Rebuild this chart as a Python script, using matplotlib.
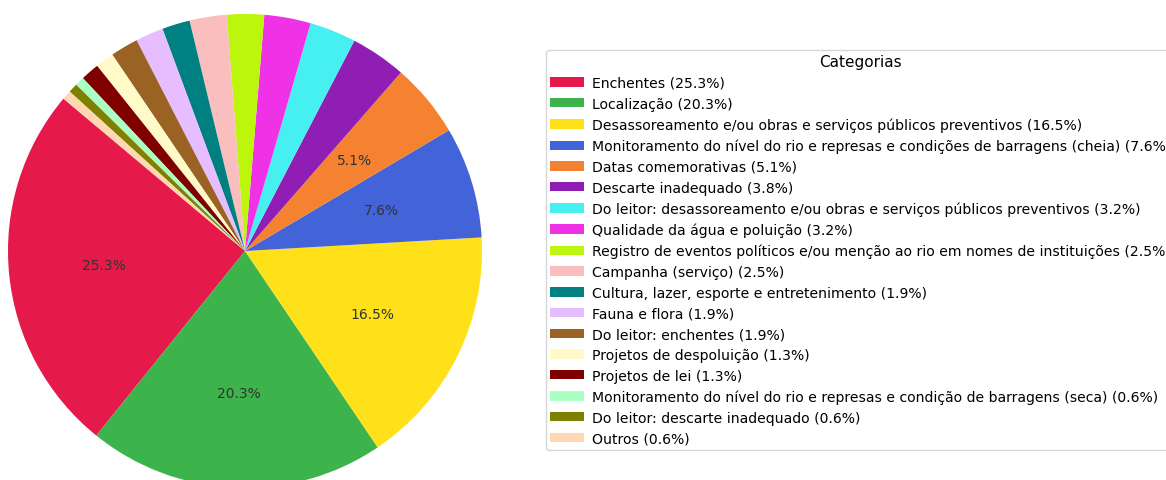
import matplotlib
matplotlib.use("Agg")
import matplotlib.pyplot as plt

# Categorias e contagens de matérias
categorias = [
    "Enchentes",
    "Localização",
    "Desassoreamento e/ou obras e serviços públicos preventivos",
    "Monitoramento do nível do rio e represas e condições de barragens (cheia)",
    "Datas comemorativas",
    "Descarte inadequado",
    "Do leitor: desassoreamento e/ou obras e serviços públicos preventivos",
    "Qualidade da água e poluição",
    "Registro de eventos políticos e/ou menção ao rio em nomes de instituições",
    "Campanha (serviço)",
    "Cultura, lazer, esporte e entretenimento",
    "Fauna e flora",
    "Do leitor: enchentes",
    "Projetos de despoluição",
    "Projetos de lei",
    "Monitoramento do nível do rio e represas e condição de barragens (seca)",
    "Do leitor: descarte inadequado",
    "Outros",
]
contagens = [40, 32, 26, 12, 8, 6, 5, 5, 4, 4, 3, 3, 3, 2, 2, 1, 1, 1]

cores = [
    "#e6194b", "#3cb44b", "#ffe119", "#4363d8", "#f58231", "#911eb4",
    "#46f0f0", "#f032e6", "#bcf60c", "#fabebe", "#008080", "#e6beff",
    "#9a6324", "#fffac8", "#800000", "#aaffc3", "#808000", "#ffd8b1",
]

total = sum(contagens)
rotulos = [f"{c} ({v / total * 100:.1f}%)" for c, v in zip(categorias, contagens)]


def fmt_pct(p):
    # só mostra o percentual nas fatias maiores
    return f"{p:.1f}%" if p > 5 else ""


fig = plt.figure(figsize=(11.66, 4.81), dpi=100)
# pizza com raio de ~237 px, centro em (245, 252)
ax = fig.add_axes([8 / 1166, -8 / 481, 474 / 1166, 474 / 481])

wedges, _, autotexts = ax.pie(
    contagens,
    colors=cores,
    startangle=140,
    autopct=fmt_pct,
    pctdistance=0.6,
    textprops={"fontsize": 10, "color": "#333333"},
)
ax.set_xlim(-1, 1)
ax.set_ylim(-1, 1)
ax.set_aspect("equal")
for w in wedges:
    w.set_clip_on(False)

fig.legend(
    wedges,
    rotulos,
    title="Categorias",
    loc="upper left",
    bbox_to_anchor=(546 / 1166, 430 / 481),
    borderaxespad=0,
    fontsize=10.1,
    title_fontsize=11,
    frameon=True,
    labelspacing=0.48,
    handlelength=2.4,
    handleheight=0.65,
    handletextpad=0.6,
    borderpad=0.3,
    fancybox=True,
)

plt.savefig("out.png", dpi=100)
